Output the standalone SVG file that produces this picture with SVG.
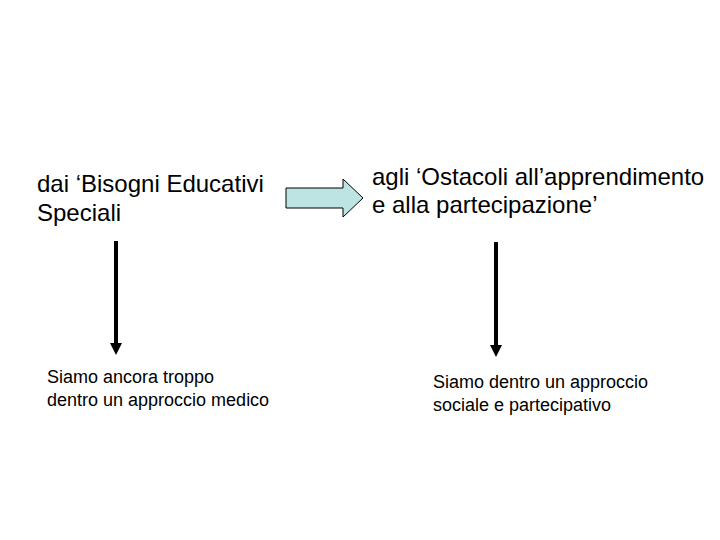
<svg xmlns="http://www.w3.org/2000/svg" width="720" height="540" viewBox="0 0 720 540">
<style>
.big{font-family:"Liberation Sans",Arial,sans-serif;font-size:24px;fill:#000}
.small{font-family:"Liberation Sans",Arial,sans-serif;font-size:18px;fill:#000}
</style>
<rect width="720" height="540" fill="#fff"/>
<g id="node-bes">
<text class="big" x="37" y="192">dai ‘Bisogni Educativi</text>
<text class="big" x="37" y="221">Speciali</text>
</g>
<g id="node-ostacoli">
<text class="big" x="372" y="185">agli ‘Ostacoli all’apprendimento</text>
<text class="big" x="372" y="213">e alla partecipazione’</text>
</g>
<g id="node-medico">
<text class="small" x="47" y="383">Siamo ancora troppo</text>
<text class="small" x="47" y="406">dentro un approccio medico</text>
</g>
<g id="node-sociale">
<text class="small" x="433" y="388">Siamo dentro un approccio</text>
<text class="small" x="433" y="411">sociale e partecipativo</text>
</g>
<g id="connectors">
<path d="M286,188 L343,188 L343,179 L363,198 L343,217 L343,208 L286,208 Z" fill="#bde3e3" stroke="#000" stroke-width="1"/>
<line x1="116" y1="241" x2="116" y2="344" stroke="#000" stroke-width="4"/>
<path d="M110,343 L122,343 L116,355 Z" fill="#000"/>
<line x1="496" y1="242" x2="496" y2="346" stroke="#000" stroke-width="4"/>
<path d="M490,345 L502,345 L496,357 Z" fill="#000"/>
</g>
</svg>
